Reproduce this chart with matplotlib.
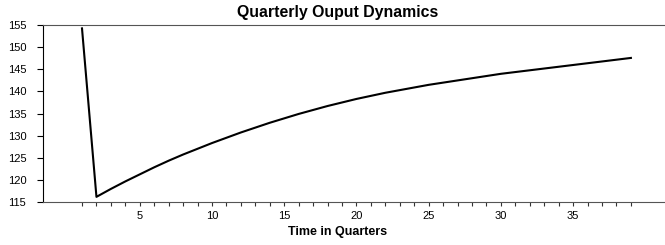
import matplotlib
matplotlib.use("Agg")
import matplotlib.pyplot as plt

plt.rcParams['font.family'] = ['Liberation Sans', 'DejaVu Sans']

quarters = list(range(1, 40))
output = [154.3, 116.1, 117.9, 119.6, 121.2, 122.8, 124.3, 125.7, 127.0, 128.3,
          129.5, 130.7, 131.8, 132.9, 133.9, 134.9, 135.8, 136.7, 137.5, 138.3,
          139.0, 139.7, 140.3, 140.9, 141.5, 142.0, 142.5, 143.0, 143.5, 144.0,
          144.4, 144.8, 145.2, 145.6, 146.0, 146.4, 146.8, 147.2, 147.6]
x_labels = [str(q) if q % 5 == 0 else "" for q in quarters]
y_ticks = [115, 120, 125, 130, 135, 140, 145, 150, 155]
title = "Quarterly Ouput Dynamics"
xlabel = "Time in Quarters"

W, H = 665, 245
fig = plt.figure(figsize=(6.65, 2.45), dpi=100)
ax = fig.add_axes([43 / W, 1 - 201.7 / H, 1 - 43 / W, (201.7 - 25.3) / H])
ax.plot(quarters, output, color='black', lw=1.5)
ax.set_xlim(-1.7, 41.36)
ax.set_ylim(115, 155)
ax.set_xticks(quarters)
ax.set_xticklabels(x_labels, fontsize=8)
ax.set_yticks(y_ticks)
ax.set_yticklabels([str(v) for v in y_ticks], fontsize=8)
ax.tick_params(axis='x', length=3, width=0.8, pad=4, color='#333333')
ax.tick_params(axis='y', length=4, width=0.8, pad=8)
ax.spines['right'].set_visible(False)
ax.spines['top'].set_color('#555555')
ax.spines['bottom'].set_color('#555555')
ax.spines['left'].set_color('black')
fig.text(337.5 / W, 1 - 12.5 / H, title, fontsize=11.4, fontweight='bold',
         ha='center', va='center')
fig.text(337.5 / W, 1 - 232 / H, xlabel, fontsize=9, fontweight='bold',
         ha='center', va='center')
fig.savefig("out.png", dpi=100)
